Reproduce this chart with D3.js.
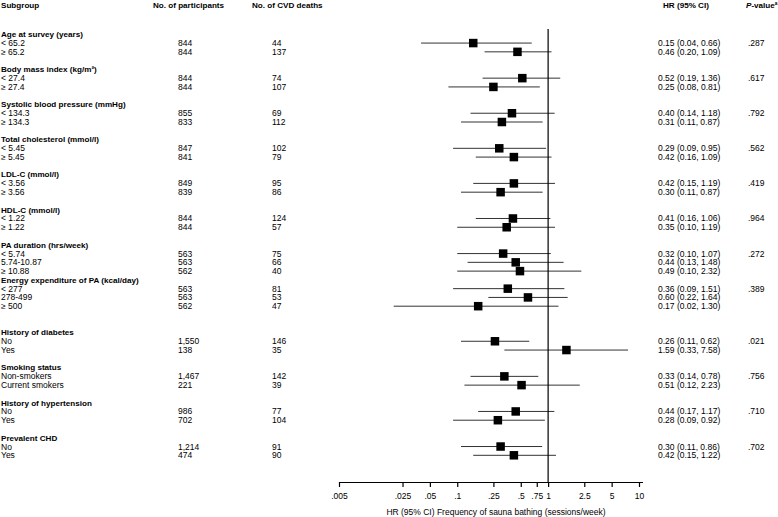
<!DOCTYPE html>
<html>
<head>
<meta charset="utf-8">
<script src="https://cdn.jsdelivr.net/npm/d3@7"></script>
<style>
  body { margin: 0; background: #fff; }
  svg { display: block; font-family: "Liberation Sans", Arial, sans-serif; }
</style>
</head>
<body>
<div id="chart"></div>
<script>
// data
const groups = [
  "Age at survey (years)", "Body mass index (kg/m²)", "Systolic blood pressure (mmHg)",
  "Total cholesterol (mmol/l)", "LDL-C (mmol/l)", "HDL-C (mmol/l)", "PA duration (hrs/week)",
  "Energy expenditure of PA (kcal/day)", "History of diabetes", "Smoking status",
  "History of hypertension", "Prevalent CHD"
];
const subgroups = [
  ["< 65.2", "≥ 65.2"], ["< 27.4", "≥ 27.4"], ["< 134.3", "≥ 134.3"], ["< 5.45", "≥ 5.45"],
  ["< 3.56", "≥ 3.56"], ["< 1.22", "≥ 1.22"], ["< 5.74", "5.74-10.87", "≥ 10.88"],
  ["< 277", "278-499", "≥ 500"], ["No", "Yes"], ["Non-smokers", "Current smokers"],
  ["No", "Yes"], ["No", "Yes"]
];
const participants = [
  [844, 844], [844, 844], [855, 833], [847, 841], [849, 839], [844, 844],
  [563, 563, 562], [563, 563, 562], [1550, 138], [1467, 221], [986, 702], [1214, 474]
];
const deaths = [
  [44, 137], [74, 107], [69, 112], [102, 79], [95, 86], [124, 57],
  [75, 66, 40], [81, 53, 47], [146, 35], [142, 39], [77, 104], [91, 90]
];
const hr = [
  [0.15, 0.46], [0.52, 0.25], [0.40, 0.31], [0.29, 0.42], [0.42, 0.30], [0.41, 0.35],
  [0.32, 0.44, 0.49], [0.36, 0.60, 0.17], [0.26, 1.59], [0.33, 0.51], [0.44, 0.28], [0.30, 0.42]
];
const ciLow = [
  [0.04, 0.20], [0.19, 0.08], [0.14, 0.11], [0.09, 0.16], [0.15, 0.11], [0.16, 0.10],
  [0.10, 0.13, 0.10], [0.09, 0.22, 0.02], [0.11, 0.33], [0.14, 0.12], [0.17, 0.09], [0.11, 0.15]
];
const ciHigh = [
  [0.66, 1.09], [1.36, 0.81], [1.18, 0.87], [0.95, 1.09], [1.19, 0.87], [1.06, 1.19],
  [1.07, 1.48, 2.32], [1.51, 1.64, 1.30], [0.62, 7.58], [0.78, 2.23], [1.17, 0.92], [0.86, 1.22]
];
const pValues = [".287", ".617", ".792", ".562", ".419", ".964", ".272", ".389", ".021", ".756", ".710", ".702"];
const tickValues = [0.005, 0.025, 0.05, 0.1, 0.25, 0.5, 0.75, 1, 2.5, 5, 10];
const tickLabels = [".005", ".025", ".05", ".1", ".25", ".5", ".75", "1", "2.5", "5", "10"];

// layout: blank rows after each group, as in the figure
const blankAfter = [1, 1, 1, 1, 1, 1, 0, 2, 1, 1, 1, 0];

const width = 778, height = 517;
const fontSize = 8.5;
const boldSize = 8.1;

// build flat rows with slot index
const headRows = [];
const itemRows = [];
let slot = 0;
groups.forEach((g, i) => {
  headRows.push({ label: g, slot: slot, p: pValues[i] });
  slot++;
  subgroups[i].forEach((s, j) => {
    itemRows.push({
      label: s, slot: slot, n: participants[i][j], deaths: deaths[i][j],
      hr: hr[i][j], lo: ciLow[i][j], hi: ciHigh[i][j], first: j === 0, p: pValues[i]
    });
    slot++;
  });
  slot += blankAfter[i];
});
const lastSlot = slot - 1;

const svg = d3.select("#chart").append("svg").attr("width", width).attr("height", height);

const y = d3.scaleLinear().domain([0, lastSlot]).range([34.3, 455.3]);
const x = d3.scaleLog().domain([0.005, 10]).range([339, 639]);
const axisY = 482;

const col = { label: 1, nHead: 153, n: 178, dHead: 252, d: 272, hrHead: 663, hr: 658, pHead: 746, p: 748 };

// header
const header = svg.append("g").attr("font-size", boldSize).attr("font-weight", "bold");
header.append("text").attr("x", col.label).attr("y", 5).attr("dy", "0.35em").text("Subgroup");
header.append("text").attr("x", col.nHead).attr("y", 5).attr("dy", "0.35em").text("No. of participants");
header.append("text").attr("x", col.dHead).attr("y", 5).attr("dy", "0.35em").text("No. of CVD deaths");
header.append("text").attr("x", col.hrHead).attr("y", 5).attr("dy", "0.35em").text("HR (95% CI)");
const pt = header.append("text").attr("x", col.pHead).attr("y", 5).attr("dy", "0.35em");
pt.append("tspan").attr("font-style", "italic").text("P");
pt.append("tspan").text("-value");
pt.append("tspan").attr("font-size", boldSize * 0.6).attr("dy", "-0.5em").text("a");

// group headings
svg.append("g")
  .selectAll("text")
  .data(headRows)
  .join("text")
  .attr("x", col.label)
  .attr("y", d => y(d.slot))
  .attr("dy", "0.35em")
  .attr("font-size", boldSize)
  .attr("font-weight", "bold")
  .text(d => d.label);

const fmtN = d3.format(",");
const fmt2 = d3.format(".2f");

const rowsG = svg.append("g").attr("font-size", fontSize);
const rowG = rowsG.selectAll("g").data(itemRows).join("g")
  .attr("transform", d => `translate(0,${y(d.slot)})`);

rowG.append("text").attr("x", col.label).attr("dy", "0.35em").text(d => d.label);
rowG.append("text").attr("x", col.n).attr("dy", "0.35em").text(d => fmtN(d.n));
rowG.append("text").attr("x", col.d).attr("dy", "0.35em").text(d => d.deaths);
rowG.append("text").attr("x", col.hr).attr("dy", "0.35em")
  .text(d => `${fmt2(d.hr)} (${fmt2(d.lo)}, ${fmt2(d.hi)})`);
rowG.filter(d => d.first).append("text").attr("x", col.p).attr("dy", "0.35em").text(d => d.p);

// reference line at HR = 1
svg.append("line")
  .attr("x1", x(1)).attr("x2", x(1))
  .attr("y1", 29).attr("y2", axisY)
  .attr("stroke", "#000").attr("stroke-width", 1.2);

// confidence intervals
rowG.append("line")
  .attr("x1", d => x(d.lo)).attr("x2", d => x(d.hi))
  .attr("y1", 0).attr("y2", 0)
  .attr("stroke", "#333").attr("stroke-width", 1);

// point estimates
const sq = 8.5;
rowG.append("rect")
  .attr("x", d => x(d.hr) - sq / 2)
  .attr("y", -sq / 2)
  .attr("width", sq).attr("height", sq)
  .attr("fill", "#000");

// axis
const xAxis = d3.axisBottom(x)
  .tickValues(tickValues)
  .tickFormat((d, i) => tickLabels[i])
  .tickSize(5)
  .tickSizeOuter(0);
const ax = svg.append("g").attr("transform", `translate(0,${axisY})`).call(xAxis);
ax.select(".domain").attr("d", `M${x(0.005)},0.5H${x(10) + 4}`).attr("stroke", "#000").attr("stroke-width", 1.2);
ax.selectAll(".tick line").attr("stroke", "#000").attr("stroke-width", 1.2);
ax.selectAll(".tick text")
  .attr("font-family", "\"Liberation Sans\", Arial, sans-serif")
  .attr("font-size", fontSize)
  .attr("fill", "#000")
  .attr("y", 11);

svg.append("text")
  .attr("x", 496)
  .attr("y", 512)
  .attr("dy", "0.35em")
  .attr("text-anchor", "middle")
  .attr("font-size", fontSize)
  .text("HR (95% CI) Frequency of sauna bathing (sessions/week)");
</script>
</body>
</html>
